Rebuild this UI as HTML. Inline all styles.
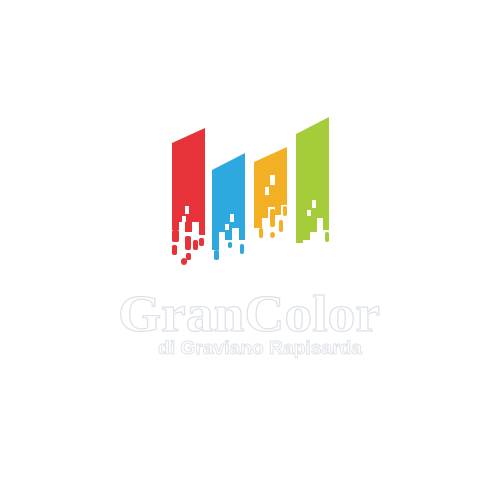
<!DOCTYPE html>
<html><head><style>
html,body{margin:0;padding:0;background:#fff;}
svg{display:block;}
</style></head><body>
<svg width="500" height="500" viewBox="0 0 500 500">
<g fill="#e8323a">
<polygon points="172,143 205,128 205,235 199,235 199,222 192,222 192,232 185,232 185,222 179,222 179,230 172,230"/>
<rect x="172" y="230" width="7" height="12" rx="2"/>
<rect x="185" y="236" width="6" height="14" rx="2"/>
<rect x="193" y="240" width="5" height="10" rx="2"/>
<rect x="172" y="245" width="5" height="10" rx="2"/>
<rect x="186" y="253" width="5" height="7" rx="2"/>
<rect x="199" y="238" width="5" height="8" rx="2"/>
<rect x="181" y="258" width="6" height="7" rx="3"/>
<rect x="185" y="206" width="4" height="8" fill="#fff"/>
<rect x="182" y="216" width="4" height="6" fill="#fff"/>
</g>
<g fill="#2ea9e0">
<polygon points="212,170 245,153 245,240 239,240 239,228 232,228 232,240 225,240 225,232 219,232 219,250 212,250"/>
<rect x="214" y="250" width="5" height="10" rx="2"/>
<rect x="240" y="244" width="4" height="10" rx="2"/>
<rect x="228" y="242" width="4" height="6" rx="2"/>
<rect x="230" y="214" width="4" height="8" fill="#fff"/>
<rect x="225" y="224" width="4" height="6" fill="#fff"/>
</g>
<g fill="#f4b025">
<polygon points="254,162 287,147 287,205 281,205 281,215 275,215 275,207 268,207 268,218 262,218 262,228 254,228"/>
<rect x="259" y="228" width="4" height="10" rx="2"/>
<rect x="270" y="209" width="5" height="18" rx="2"/>
<rect x="279" y="220" width="4" height="12" rx="2"/>
<rect x="283" y="206" width="4" height="10" rx="2"/>
<rect x="270" y="232" width="5" height="6" rx="3"/>
<rect x="270" y="175" width="5" height="10" fill="#fff"/>
<rect x="265" y="187" width="4" height="8" fill="#fff"/>
</g>
<g fill="#a5cd39">
<polygon points="296,134 329,117 329,230 323,230 323,218 317,218 317,232 310,232 310,240 303,240 303,243 296,243"/>
<rect x="325" y="232" width="4" height="10" rx="2"/>
<rect x="312" y="200" width="4" height="8" fill="#fff"/>
<rect x="307" y="210" width="4" height="6" fill="#fff"/>
</g>
<text x="118" y="331" textLength="262" lengthAdjust="spacingAndGlyphs" font-family="Liberation Serif, serif" font-weight="bold" font-size="52" fill="#fff" stroke="#dde2e8" stroke-width="1.2">GranColor</text>
<text x="158" y="354" textLength="204" lengthAdjust="spacingAndGlyphs" font-family="Liberation Sans, sans-serif" font-weight="bold" font-size="18" fill="#fff" stroke="#dde2e8" stroke-width="0.9">di Graviano Rapisarda</text>
</svg>
</body></html>
